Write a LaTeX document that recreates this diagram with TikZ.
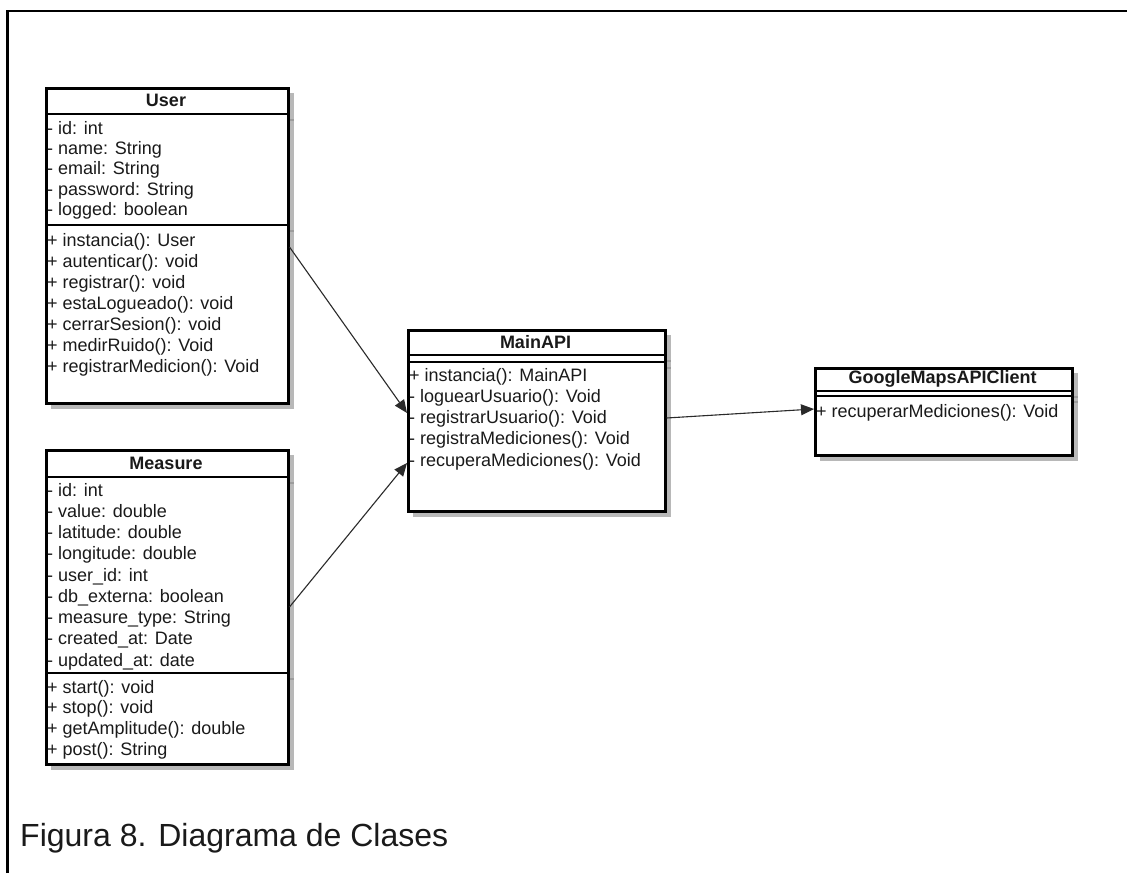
\documentclass[tikz,border=0pt]{standalone}
\usepackage{fontspec}
\setmainfont{Liberation Sans}
\usetikzlibrary{arrows.meta}
\definecolor{ink}{HTML}{1A1A1A}
\definecolor{shadowgray}{HTML}{B8B8B8}
\definecolor{shadowline}{HTML}{9C9C9C}
\definecolor{linegray}{HTML}{2A2A2A}
\newcommand{\memberfont}{\fontsize{18}{21}\selectfont}
\newcommand{\classtitlefont}{\fontsize{18}{21}\selectfont\bfseries}
\begin{document}
\begin{tikzpicture}[x=1pt,y=-1pt,
  classbox/.style={draw=black, line width=2.5pt, fill=white, inner sep=0pt, anchor=north west},
  sepline/.style={draw=black, line width=2.3pt},
  member/.style={anchor=base west, inner sep=0pt, font=\memberfont, text=ink},
  classtitle/.style={inner sep=0pt, font=\classtitlefont, text=ink},
  assoc/.style={draw=linegray, line width=1.1pt, -{Triangle[length=13pt,width=11pt]}},
  frameline/.style={draw=black, line width=2.2pt},
  caption/.style={anchor=base west, inner sep=0pt, font=\fontsize{32}{36}\selectfont, text=ink}]

\useasboundingbox (0,0) rectangle (1127,873);
\fill[white] (0,0) rectangle (1127,873);

% page frame: left and top rules
\draw[frameline] (7.5,873) -- (7.5,11) -- (1127,11);

% ---------- shadows ----------
\fill[shadowgray] (51,93) rectangle (294,409);
\fill[shadowgray] (51,455) rectangle (294,770);
\fill[shadowgray] (413,335) rectangle (671,517);
\fill[shadowgray] (820,373) rectangle (1078,461);
\draw[shadowline, line width=1.2pt] (287,120) -- (294,120) (287,231) -- (294,231);
\draw[shadowline, line width=1.2pt] (287,483) -- (294,483) (287,679) -- (294,679);
\draw[shadowline, line width=1.2pt] (664,361) -- (671,361) (664,368) -- (671,368);
\draw[shadowline, line width=1.2pt] (1071,397) -- (1078,397) (1071,402) -- (1078,402);

% ---------- User ----------
\node[classbox, minimum width=242pt, minimum height=315pt] (user) at (45,87) {};
\draw[sepline] (user.west |- 0,114) -- (user.east |- 0,114);
\draw[sepline] (user.west |- 0,225) -- (user.east |- 0,225);
\node[classtitle] (user-title) at (166,100.5) {User};
\foreach \t [count=\i from 0] in {- id: int, - name: String, - email: String, - password: String, - logged: boolean}
  \node[member] (user-a\i) at (47,134+20.4*\i) {\t};
\foreach \t [count=\i from 0] in {+ instancia(): User, + autenticar(): void, + registrar(): void, + estaLogueado(): void, + cerrarSesion(): void, + medirRuido(): Void, + registrarMedicion(): Void}
  \node[member] (user-m\i) at (47,246+21.1*\i) {\t};

% ---------- Measure ----------
\node[classbox, minimum width=242pt, minimum height=314pt] (measure) at (45,449) {};
\draw[sepline] (measure.west |- 0,477) -- (measure.east |- 0,477);
\draw[sepline] (measure.west |- 0,673) -- (measure.east |- 0,673);
\node[classtitle] (measure-title) at (166,463) {Measure};
\foreach \t [count=\i from 0] in {- id: int, - value: double, - latitude: double, - longitude: double, - user\_id: int, - db\_externa: boolean, - measure\_type: String, - created\_at: Date, - updated\_at: date}
  \node[member] (measure-a\i) at (47,496+21.25*\i) {\t};
\foreach \t [count=\i from 0] in {+ start(): void, + stop(): void, + getAmplitude(): double, + post(): String}
  \node[member] (measure-m\i) at (47,693+20.9*\i) {\t};

% ---------- MainAPI ----------
\node[classbox, minimum width=257pt, minimum height=181pt] (main) at (407,329) {};
\draw[sepline] (main.west |- 0,355) -- (main.east |- 0,355);
\draw[sepline] (main.west |- 0,362) -- (main.east |- 0,362);
\node[classtitle] (main-title) at (535.5,342) {MainAPI};
\foreach \t [count=\i from 0] in {+ instancia(): MainAPI, - loguearUsuario(): Void, - registrarUsuario(): Void, - registraMediciones(): Void, - recuperaMediciones(): Void}
  \node[member] (main-m\i) at (409,381+21.25*\i) {\t};

% ---------- GoogleMapsAPIClient ----------
\node[classbox, minimum width=257pt, minimum height=87pt] (gmaps) at (814,367) {};
\draw[sepline] (gmaps.west |- 0,391) -- (gmaps.east |- 0,391);
\draw[sepline] (gmaps.west |- 0,396) -- (gmaps.east |- 0,396);
\node[classtitle] (gmaps-title) at (942.5,379) {GoogleMapsAPIClient};
\node[member] (gmaps-m0) at (816,417) {+ recuperarMediciones(): Void};

% ---------- associations ----------
\draw[assoc] (user.east |- 0,247) -- (main.west |- 0,413);
\draw[assoc] (measure.east |- 0,607) -- (main.west |- 0,463);
\draw[assoc] (main.east |- 0,418) -- (gmaps.west |- 0,409);

% ---------- caption ----------
\node[caption] (caption) at (20,846) {Figura 8. Diagrama de Clases};
\end{tikzpicture}
\end{document}
